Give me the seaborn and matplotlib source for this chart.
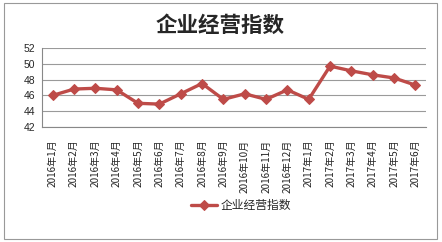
import matplotlib
matplotlib.use("Agg")
import matplotlib.pyplot as plt
import seaborn as sns
import pandas as pd
import numpy as np
from matplotlib.patches import Rectangle

months = ["2016年1月", "2016年2月", "2016年3月", "2016年4月", "2016年5月", "2016年6月",
          "2016年7月", "2016年8月", "2016年9月", "2016年10月", "2016年11月", "2016年12月",
          "2017年1月", "2017年2月", "2017年3月", "2017年4月", "2017年5月", "2017年6月"]
values = [46.0, 46.8, 46.9, 46.7, 45.0, 44.9, 46.2, 47.5, 45.5, 46.2, 45.5, 46.7,
          45.5, 49.7, 49.1, 48.6, 48.2, 47.3]
series_name = "企业经营指数"
title = "企业经营指数"
yticks = [42, 44, 46, 48, 50, 52]

sns.set_style("white")
plt.rcParams['font.family'] = ['Noto Sans CJK SC', 'DejaVu Sans']

df = pd.DataFrame({"month": months, "value": values, "series": series_name})
df["pos"] = np.arange(len(months))

fig = plt.figure(figsize=(4.42, 2.42), dpi=100)
ax = fig.add_axes([0.095, 0.475, 0.869, 0.327])

color = "#BE4B48"
sns.lineplot(data=df, x="pos", y="value", hue="series", palette=[color], marker="D",
             markersize=5, markeredgecolor=color, linewidth=2.4, ax=ax)

ax.set_xlim(-0.5, len(months) - 0.5)
ax.set_ylim(42, 52)
ax.set_yticks(yticks)
ax.set_yticklabels([str(v) for v in yticks], fontsize=7.5, family=['Liberation Sans', 'DejaVu Sans'])
ax.set_xticks(np.arange(len(months)))
ax.set_xticklabels(months, rotation=90, fontsize=7.2)
ax.set_xticks(np.arange(-0.5, len(months), 1.0), minor=True)
ax.tick_params(axis='x', which='major', length=0, pad=9)
ax.tick_params(axis='x', which='minor', length=3, color="#888888", direction='out')
ax.tick_params(axis='y', length=3, color="#888888", direction='out', pad=2)
ax.grid(axis='y', color="#9a9a9a", linewidth=0.8)
ax.set_axisbelow(True)
for s in ["top", "right"]:
    ax.spines[s].set_visible(False)
for s in ["left", "bottom"]:
    ax.spines[s].set_color("#888888")
    ax.spines[s].set_linewidth(0.8)
ax.set_xlabel("")
ax.set_ylabel("")

ax.legend_.remove()
handles, labels = ax.get_legend_handles_labels()
fig.legend(handles, labels, loc="center", bbox_to_anchor=(0.545, 0.15), frameon=False,
           fontsize=8.5, handlelength=2.2, handletextpad=0.3)

fig.text(0.498, 0.895, title, ha="center", va="center", fontsize=15.5, fontweight="bold")

fig.patches.append(Rectangle((0.008, 0.012), 0.98, 0.976, transform=fig.transFigure,
                             fill=False, edgecolor="#999999", linewidth=0.8))

fig.savefig("out.png", dpi=100)
